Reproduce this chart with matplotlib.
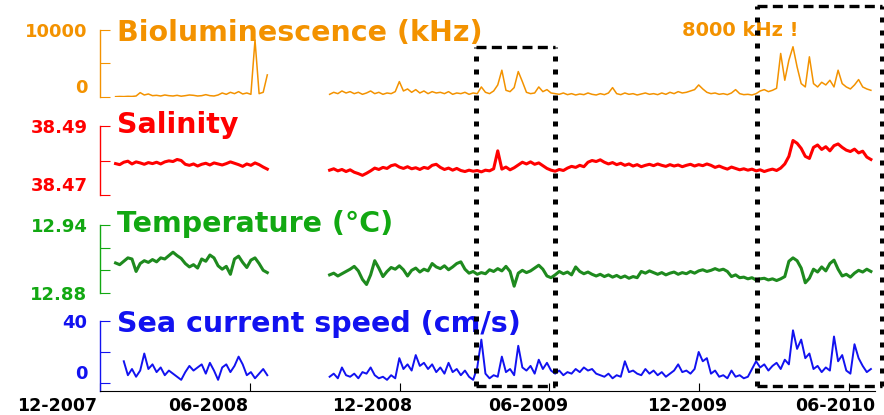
import numpy as np
import pandas as pd
import matplotlib
matplotlib.use("Agg")
import matplotlib.pyplot as plt
import matplotlib.dates as mdates
import matplotlib.transforms as mtransforms
from matplotlib.lines import Line2D

# two deployments, one value every 5 days
seg1_start = "2007-12-20"
seg2_start = "2008-09-06"
step = "5D"

# bioluminescence (kHz)
biolum1 = [50, 80, 60, 100, 80, 150, 650, 300, 450, 200, 250, 150, 300, 200, 150, 250, 120, 200, 300,
           250, 150, 200, 350, 200, 150, 300, 600, 400, 700, 500, 800, 450, 600, 400, 8500, 500, 700, 3300]
biolum2 = [400, 700, 500, 900, 600, 800, 500, 700, 400, 600,
           900, 500, 700, 400, 600, 500, 800, 2300, 900, 1200,
           700, 1100, 600, 900, 500, 800, 600, 700, 500, 800,
           400, 600, 500, 700, 400, 600, 500, 1500, 700, 500,
           900, 1800, 4000, 1000, 800, 1400, 3800, 2300, 700, 500,
           600, 1500, 800, 1100, 600, 500, 400, 600, 350, 500,
           300, 450, 350, 600, 400, 300, 500, 350, 600, 1400,
           500, 350, 600, 400, 500, 300, 450, 600, 400, 500,
           350, 600, 400, 700, 500, 800, 600, 700, 900, 1100,
           1800, 1200, 700, 500, 600, 400, 500, 350, 600, 1100,
           500, 350, 400, 300, 500, 900, 1100, 800, 1000, 1300,
           6500, 2500, 5500, 7500, 4500, 2000, 1500, 6000, 2000, 1500,
           2200, 1800, 2500, 1500, 4000, 2000, 1500, 1200, 1800, 2600,
           1500, 1200, 1000]

# salinity
sal1 = [38.4791, 38.4788, 38.4795, 38.4798, 38.4790, 38.4796, 38.4793, 38.4789, 38.4794, 38.4791,
        38.4795, 38.4790, 38.4796, 38.4799, 38.4797, 38.4803, 38.4800, 38.4789, 38.4786, 38.4790,
        38.4784, 38.4789, 38.4792, 38.4787, 38.4793, 38.4790, 38.4787, 38.4791, 38.4796, 38.4792,
        38.4788, 38.4783, 38.4790, 38.4786, 38.4793, 38.4788, 38.4781, 38.4775]
sal2 = [38.4772, 38.4776, 38.4770, 38.4774, 38.4768, 38.4773, 38.4766, 38.4762, 38.4757, 38.4763,
        38.4770, 38.4778, 38.4774, 38.4780, 38.4777, 38.4785, 38.4788, 38.4781, 38.4777, 38.4782,
        38.4776, 38.4779, 38.4774, 38.4780, 38.4777, 38.4786, 38.4789, 38.4780, 38.4774, 38.4778,
        38.4772, 38.4777, 38.4771, 38.4768, 38.4772, 38.4769, 38.4771, 38.4767, 38.4772, 38.4770,
        38.4776, 38.4828, 38.4775, 38.4781, 38.4773, 38.4779, 38.4787, 38.4795, 38.4790, 38.4796,
        38.4789, 38.4793, 38.4785, 38.4777, 38.4772, 38.4769, 38.4774, 38.4771, 38.4778, 38.4783,
        38.4780, 38.4786, 38.4782, 38.4795, 38.4800, 38.4797, 38.4802, 38.4795, 38.4790, 38.4794,
        38.4788, 38.4792, 38.4786, 38.4790, 38.4784, 38.4788, 38.4782, 38.4786, 38.4789, 38.4785,
        38.4790, 38.4786, 38.4783, 38.4788, 38.4784, 38.4787, 38.4782, 38.4786, 38.4789, 38.4784,
        38.4788, 38.4785, 38.4790, 38.4786, 38.4780, 38.4784, 38.4779, 38.4775, 38.4781, 38.4777,
        38.4773, 38.4776, 38.4772, 38.4775, 38.4770, 38.4773, 38.4768, 38.4772, 38.4775, 38.4771,
        38.4778, 38.4790, 38.4812, 38.4858, 38.4850, 38.4835, 38.4812, 38.4806, 38.4838, 38.4845,
        38.4832, 38.4840, 38.4828, 38.4843, 38.4848, 38.4838, 38.4830, 38.4826, 38.4833, 38.4822,
        38.4827, 38.4810, 38.4803]

# temperature (deg C)
temp1 = [12.9065, 12.9050, 12.9080, 12.9110, 12.9100, 12.8990, 12.9060, 12.9085, 12.9070, 12.9095,
         12.9075, 12.9110, 12.9100, 12.9130, 12.9160, 12.9130, 12.9105, 12.9060, 12.9030, 12.9050,
         12.9020, 12.9100, 12.9080, 12.9135, 12.9110, 12.9040, 12.9010, 12.9035, 12.8965, 12.9100,
         12.9125, 12.9070, 12.9025, 12.9090, 12.9110, 12.9060, 12.9000, 12.8980]
temp2 = [12.8960, 12.8975, 12.8950, 12.8970, 12.8990, 12.9010, 12.9035, 12.8995, 12.8920, 12.8875,
         12.8960, 12.9085, 12.9020, 12.8945, 12.8990, 12.9025, 12.9010, 12.9040, 12.9005, 12.8950,
         12.9000, 12.9020, 12.8985, 12.9010, 12.8995, 12.9060, 12.9030, 12.9015, 12.9040, 12.9005,
         12.9030, 12.9060, 12.9075, 12.9010, 12.8975, 12.8990, 12.8965, 12.8980, 12.8970, 12.9005,
         12.8990, 12.9015, 12.8995, 12.9035, 12.8990, 12.8860, 12.8975, 12.9000, 12.8980, 12.8995,
         12.9020, 12.9045, 12.9010, 12.8950, 12.8935, 12.8960, 12.8990, 12.8970, 12.8985, 12.8960,
         12.9030, 12.8990, 12.8970, 12.8985, 12.8965, 12.8950, 12.8965, 12.8945, 12.8960, 12.8940,
         12.8955, 12.8935, 12.8950, 12.8930, 12.8945, 12.8935, 12.8990, 12.8975, 12.8995, 12.8980,
         12.8965, 12.8980, 12.8960, 12.8975, 12.8985, 12.8965, 12.8980, 12.8970, 12.8990, 12.8975,
         12.8995, 12.9005, 12.8990, 12.9000, 12.9015, 12.9000, 12.9010, 12.8990, 12.8945, 12.8960,
         12.8935, 12.8940, 12.8925, 12.8935, 12.8915, 12.8925, 12.8930, 12.8915, 12.8925, 12.8910,
         12.8925, 12.8945, 12.9080, 12.9110, 12.9085, 12.9020, 12.8890, 12.8930, 12.9010, 12.8985,
         12.9030, 12.8995, 12.9060, 12.9090, 12.9010, 12.8950, 12.8965, 12.8940, 12.8975, 12.9000,
         12.8985, 12.9010, 12.8990]

# sea current speed (cm/s)
cur1 = [np.nan, np.nan, 14, 5, 9, 4, 8, 19, 9, 12, 7, 10, 5, 8, 6, 4, 2, 7, 11, 8,
        10, 12, 6, 13, 8, 2, 10, 12, 7, 11, 17, 12, 5, 7, 3, 6, 9, 5]
cur2 = [4, 6, 3, 10, 5, 4, 6, 3, 7, 6,
        10, 5, 3, 4, 2, 5, 3, 16, 9, 12,
        8, 18, 11, 13, 9, 12, 7, 10, 6, 13,
        7, 9, 5, 8, 4, 2, 10, 28, 6, 3,
        5, 4, 17, 7, 9, 5, 24, 10, 8, 11,
        6, 15, 9, 13, 8, 6, 8, 5, 7, 6,
        9, 7, 10, 8, 9, 6, 5, 4, 6, 3,
        5, 4, 14, 7, 8, 6, 5, 9, 6, 8,
        5, 7, 4, 6, 8, 12, 7, 8, 6, 9,
        20, 14, 16, 6, 8, 4, 5, 3, 8, 4,
        5, 3, 4, 9, 14, 10, 12, 8, 11, 13,
        9, 15, 12, 34, 22, 28, 16, 19, 9, 11,
        7, 10, 8, 30, 14, 18, 8, 6, 25, 16,
        11, 7, 9]

date_ticks = ["2007-12-01", "2008-06-01", "2008-12-01", "2009-06-01", "2009-12-01", "2010-06-01"]
date_labels = ["12-2007", "06-2008", "12-2008", "06-2009", "12-2009", "06-2010"]
label_shift_px = [-43, -42, -28, -21, -12, -14]   # labels sit left of their ticks
xstart, xend = "2007-12-01", "2010-07-03"

# highlighted periods
boxes = [("2009-03-03", "2009-06-08", 0.887), ("2010-02-09", "2010-07-12", 0.986)]

t1 = pd.date_range(seg1_start, periods=len(biolum1), freq=step)
t2 = pd.date_range(seg2_start, periods=len(biolum2), freq=step)

orange = "#F39200"
red = "#FF0000"
green = "#12A812"
dgreen = "#1E8A1E"
blue = "#1212F0"

fig = plt.figure(figsize=(8.84, 4.15), dpi=100)


def make_ax(top, bottom):
    return fig.add_axes([100 / 884, 1 - bottom / 415, 775 / 884, (bottom - top) / 415])


ax_b = make_ax(30, 97)
ax_s = make_ax(126, 195)
ax_t = make_ax(225, 293)
ax_c = make_ax(321, 391)

# bioluminescence
for t, v in ((t1, biolum1), (t2, biolum2)):
    ax_b.plot(t, v, color=orange, lw=1.1)
ax_b.set_ylim(0, 10000)
ax_b.set_yticks([0, 5000, 10000], ["0", "", "10000"])

# salinity
for t, v in ((t1, sal1), (t2, sal2)):
    ax_s.plot(t, v, color=red, lw=2.2)
ax_s.set_ylim(38.47, 38.49)
ax_s.set_yticks([38.47, 38.48, 38.49], ["38.47", "", "38.49"])

# temperature
for t, v in ((t1, temp1), (t2, temp2)):
    ax_t.plot(t, v, color=dgreen, lw=2.2)
ax_t.set_ylim(12.88, 12.94)
ax_t.set_yticks([12.88, 12.90, 12.92, 12.94], ["12.88", "", "", "12.94"])

# current speed
for t, v in ((t1, cur1), (t2, cur2)):
    ax_c.plot(t, v, color=blue, lw=1.4)
ax_c.set_ylim(-5.2, 40)
ax_c.set_yticks([0, 20, 40], ["0", "", "40"])

titles = [(ax_b, "Bioluminescence (kHz)", orange, -11),
          (ax_s, "Salinity", red, -7),
          (ax_t, "Temperature (°C)", green, -7),
          (ax_c, "Sea current speed (cm/s)", blue, -11)]

for ax, title, col, dy in titles:
    ax.set_xlim(pd.Timestamp(xstart), pd.Timestamp(xend))
    for s in ("top", "right", "bottom"):
        ax.spines[s].set_visible(False)
    ax.spines["left"].set_color(col)
    ax.spines["left"].set_linewidth(1.0)
    ax.tick_params(axis="y", direction="in", length=7, color=col, labelcolor=col,
                   labelsize=13, pad=9)
    for lab in ax.get_yticklabels():
        lab.set_fontweight("bold")
    ax.set_facecolor("none")
    ax.annotate(title, xy=(0, 1), xycoords="axes fraction", xytext=(17, dy),
                textcoords="offset pixels", va="baseline", ha="left",
                fontsize=20.5, fontweight="bold", color=col)
    if ax is not ax_c:
        ax.set_xticks([])

# bottom labels sit on their tick
for ax in (ax_b, ax_s, ax_c):
    ax.get_yticklabels()[0].set_verticalalignment("bottom")

ax_c.spines["bottom"].set_visible(True)
ax_c.spines["bottom"].set_color("black")
ax_c.set_xticks([pd.Timestamp(d) for d in date_ticks], date_labels)
ax_c.tick_params(axis="x", direction="in", length=6, color="black", labelsize=12.5, pad=4)
for lab, dx in zip(ax_c.get_xticklabels(), label_shift_px):
    lab.set_fontweight("bold")
    lab.set_transform(lab.get_transform()
                      + mtransforms.ScaledTranslation(dx / 100, 0, fig.dpi_scale_trans))

ax_b.text(pd.Timestamp("2009-11-10"), 9100, "8000 kHz !", color=orange, fontsize=14,
          fontweight="bold", va="baseline", ha="left")

# dashed boxes across the panels
trans = mtransforms.blended_transform_factory(ax_c.transData, fig.transFigure)
y_bot = 0.0699
for d0, d1, y_top in boxes:
    x0 = mdates.date2num(pd.Timestamp(d0))
    x1 = mdates.date2num(pd.Timestamp(d1))
    for x in (x0, x1):
        fig.add_artist(Line2D([x, x], [y_bot, y_top], transform=trans, color="black",
                              lw=3.6, linestyle=(0, (1, 1.6)), dash_capstyle="butt",
                              clip_on=False))
    for y in (y_bot, y_top):
        fig.add_artist(Line2D([x0, x1], [y, y], transform=trans, color="black",
                              lw=2.4, linestyle=(0, (3, 1.6)), dash_capstyle="butt",
                              clip_on=False))

fig.savefig("out.png", dpi=100)
